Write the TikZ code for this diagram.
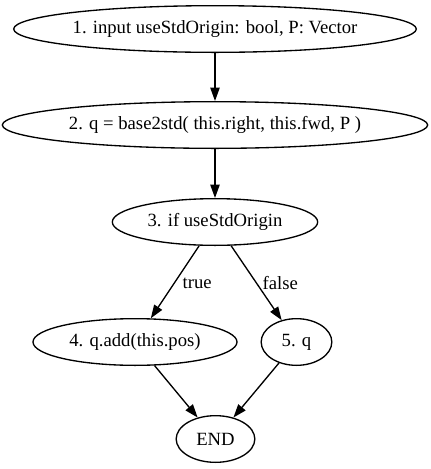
\documentclass[tikz,border=0pt]{standalone}
\usepackage{fontspec}
\setmainfont{Liberation Serif}
\usetikzlibrary{arrows.meta}
\usetikzlibrary{shapes.geometric}

\begin{document}
\begin{tikzpicture}[x=0.75pt,y=-0.75pt,font=\fontsize{14}{16}\selectfont,
	every node/.style={ellipse,draw,line width=1pt,inner sep=0pt,minimum height=35pt},
	flow/.style={-{Triangle[length=10pt,width=7pt]},line width=1pt},
	cond/.style={draw=none,rectangle,minimum height=0pt,anchor=west}]
	\useasboundingbox (0,0) rectangle (430,469);
	\node[minimum width=302pt] (input) at (215,29) {1. input useStdOrigin: bool, P: Vector};
	\node[minimum width=319pt] (conv) at (215,125) {2. q = base2std( this.right, this.fwd, P )};
	\node[minimum width=154pt] (test) at (215,222) {3. if useStdOrigin};
	\node[minimum width=153pt] (add) at (135,342) {4. q.add(this.pos)};
	\node[minimum width=53pt] (keep) at (296.5,342) {5. q};
	\node[minimum width=59pt] (stop) at (215.5,439) {END};
	\draw[flow] (input) -- (conv);
	\draw[flow] (conv) -- (test);
	\draw[flow] (test) -- (add);
	\draw[flow] (test) -- (keep);
	\draw[flow] (add) -- (stop);
	\draw[flow] (keep) -- (stop);
	\node[cond] (yes) at (182,283) {true};
	\node[cond] (no) at (262,283) {false};
\end{tikzpicture}
\end{document}
